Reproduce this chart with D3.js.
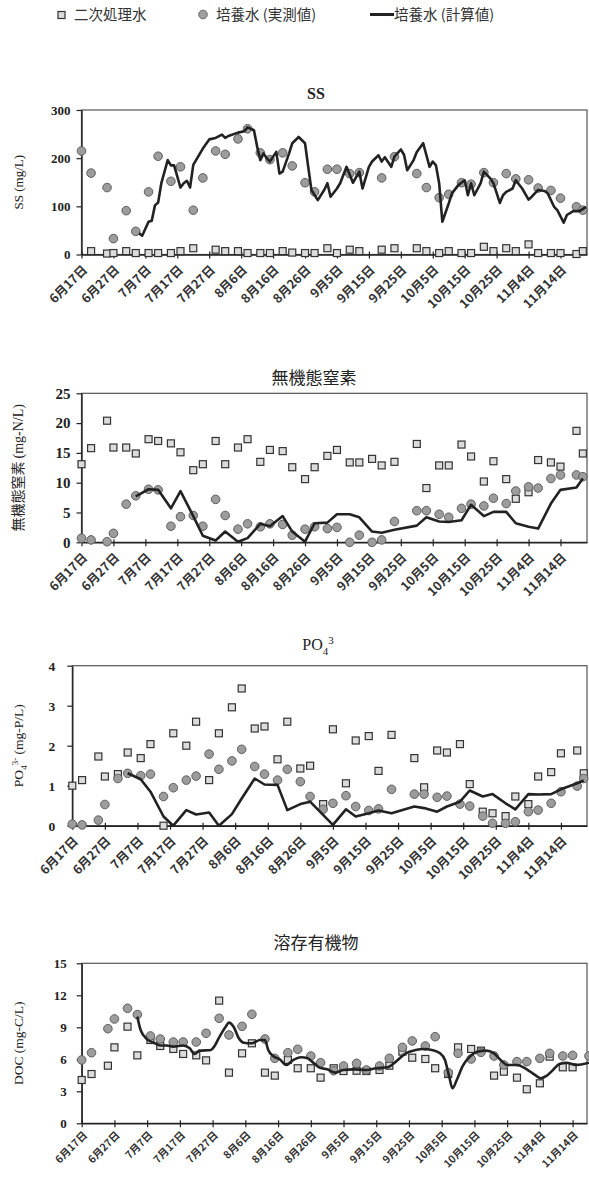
<!DOCTYPE html>
<html>
<head>
<meta charset="utf-8">
<script src="https://cdn.jsdelivr.net/npm/d3@7"></script>
<style>
  body { margin: 0; background: #fff; }
  svg { display: block; }
</style>
</head>
<body>
<svg id="chart" width="589" height="1178"></svg>
<script>
// Sampling days, counted from 17 June (day 0)
const sampleDays = [0, 3, 8, 10, 14, 17, 21, 24, 28, 31, 35, 38, 42, 45, 49, 52, 56, 59, 63, 66,
  70, 73, 77, 80, 84, 87, 91, 94, 98, 101, 105, 108, 112, 115, 119, 122, 126, 129, 133, 136,
  140, 143, 147, 150, 155, 157];

// x-axis ticks every 10 days: 6月17日 ... 11月14日
const tickDays = d3.range(0, 151, 10);

// Legend entries
const seriesNames = ["二次処理水", "培養水 (実測値)", "培養水 (計算値)"];

// ---- SS (mg/L)
const ssEffluent = [null, 7, 2, 3, 7, 3, 3, 3, 3, 7, 13, null, 10, 7, 7, 3, 3, 3, 7, 4,
  3, 3, 13, 3, 10, 7, null, 10, 13, null, 13, 7, 3, 7, 3, 3, 16, 7, 13, 7,
  21, 3, 3, 3, 1, 7];
const ssCulture = [215, 169, 139, 33, 91, 48, 130, 204, 152, 182, 92, 159, 215, 208, 240, 261, 211, 197, 211, 184,
  149, 130, 177, 177, 168, 170, null, 159, 203, null, 168, 139, 118, 125, 149, 146, 170, 149, 168, 157,
  155, 138, 133, 117, 99, 92];
const ssCalcDays = [18, 19, 21, 22, 23, 24, 25, 27, 28, 29, 31, 32, 33, 34, 35, 38, 40, 42, 44, 45,
  46, 49, 51, 52, 54, 55, 56, 57, 58, 59, 61, 62, 63, 65, 66, 68, 70, 71, 72, 74,
  76, 77, 78, 80, 81, 83, 85, 87, 88, 90, 91, 93, 94, 95, 97, 98, 100, 101, 102, 104,
  105, 107, 109, 110, 111, 112, 113, 115, 116, 118, 120, 121, 122, 123, 125, 126, 128, 129, 131, 132,
  133, 135, 136, 138, 140, 141, 143, 145, 146, 148, 149, 151, 152, 154, 156, 158];
const ssCalc = [44, 39, 68, 70, 102, 108, 148, 196, 185, 185, 139, 148, 153, 139, 186, 220, 239, 242, 249, 242,
  246, 253, 256, 264, 258, 224, 196, 210, 200, 193, 213, 168, 172, 210, 231, 244, 231, 182, 134, 113,
  134, 148, 120, 137, 148, 182, 149, 172, 137, 182, 193, 206, 193, 202, 182, 203, 218, 207, 175, 196,
  213, 231, 182, 193, 185, 148, 68, 106, 127, 144, 154, 123, 148, 123, 148, 172, 158, 148, 107, 123,
  130, 137, 154, 137, 114, 120, 134, 132, 127, 99, 92, 66, 82, 90, 90, 99];

// ---- 無機態窒素 (mg-N/L)
const nEffluent = [13.1, 15.8, 20.4, 15.9, 15.9, 14.9, 17.3, 17.0, 16.6, 15.1, 12.1, 13.1, 17.0, 13.1, 15.9, 17.3, 13.5, 15.5, 15.3, 12.6,
  10.6, 12.6, 14.5, 15.5, 13.4, 13.4, 14.0, 12.9, 13.5, null, 16.5, 9.1, 12.9, 12.9, 16.4, 14.4, 10.2, 13.6, 10.6, 7.3,
  8.4, 13.8, 13.4, 12.7, 18.7, 14.9];
const nCulture = [0.7, 0.4, 0.1, 1.5, 6.4, 7.8, 8.9, 8.8, 2.7, 4.3, 4.5, 2.7, 7.2, 4.5, 2.2, 3.1, 2.6, 3.1, 3.0, 1.2,
  2.2, 2.6, 2.3, 2.5, 0.0, 1.2, 0.0, 0.4, 3.5, null, 5.3, 5.3, 4.7, 4.2, 5.7, 6.4, 6.1, 7.4, 6.5, 8.6,
  9.3, 9.1, 10.7, 11.3, 11.3, 11.0];
const nCalcDays = [17, 21, 24, 28, 31, 35, 38, 42, 45, 49, 52, 56, 59, 63, 66, 70, 73, 77, 80, 84,
  87, 91, 94, 98, 105, 108, 112, 115, 119, 122, 126, 129, 133, 136, 140, 143, 147, 150, 155, 157];
const nCalc = [7.7, 8.9, 8.8, 5.7, 8.6, 4.4, 1.1, 0.3, 1.8, 0.1, 0.7, 3.1, 2.7, 4.4, 1.8, 0.1, 3.2, 3.3, 4.7, 4.7,
  4.2, 1.8, 1.6, 2.1, 2.8, 4.2, 3.5, 3.4, 3.7, 6.3, 4.4, 5.1, 5.1, 3.2, 2.6, 2.3, 6.5, 8.8, 9.2, 10.7];

// ---- PO4 3- (mg-P/L)
const pEffluent = [1.0, 1.14, 1.73, 1.23, 1.29, 1.83, 1.69, 2.04, 0.0, 2.31, 2.0, 2.6, 1.14, 2.31, 2.96, 3.43, 2.43, 2.48, 1.66, 2.6,
  1.43, 1.5, 0.54, 2.41, 1.06, 2.13, 2.24, 1.37, 2.27, null, 1.69, 0.96, 1.88, 1.83, 2.04, 1.04, 0.35, 0.31, 0.24, 0.73,
  0.54, 1.23, 1.34, 1.81, 1.88, 1.31];
const pCulture = [0.04, 0.02, 0.14, 0.53, 1.18, 1.31, 1.25, 1.29, 0.73, 0.95, 1.14, 1.24, 1.79, 1.41, 1.62, 1.91, 1.48, 1.29, 1.14, 1.41,
  1.1, 0.73, 0.41, 0.56, 0.75, 0.48, 0.38, 0.42, 0.91, null, 0.79, 0.79, 0.71, 0.74, 0.54, 0.49, 0.24, 0.06, 0.06, 0.1,
  0.35, 0.39, 0.56, 0.85, 0.99, 1.18];
const pCalcDays = [17, 21, 24, 28, 31, 35, 38, 42, 45, 49, 52, 56, 59, 63, 66, 70, 73, 80, 84, 87,
  91, 94, 98, 105, 108, 112, 115, 119, 122, 126, 129, 133, 136, 140, 143, 147, 150, 155, 157];
const pCalc = [1.31, 1.16, 0.85, 0.23, 0.0, 0.39, 0.28, 0.33, 0.0, 0.29, 0.68, 1.18, 1.03, 1.02, 0.39, 0.54, 0.6, 0.02, 0.41, 0.23,
  0.31, 0.38, 0.31, 0.48, 0.44, 0.35, 0.48, 0.6, 0.88, 0.73, 0.79, 0.56, 0.41, 0.79, 0.78, 0.79, 0.91, 1.06, 1.13];

// ---- DOC (mg-C/L)
const docEffluent = [4.06, 4.62, 5.4, 7.12, 9.06, 6.37, 7.81, 7.25, 6.97, 6.5, 6.37, 5.9, 11.5, 4.75, 6.56, 7.5, 4.75, 4.47, 5.94, 5.16,
  5.16, 4.28, 5.16, 4.9, 4.93, 4.9, 5.0, 5.4, 6.72, 6.15, 6.03, 5.16, 4.62, 7.12, 6.97, 6.81, 4.47, 4.84, 4.28, 3.19,
  3.75, 6.25, 5.25, 5.25, null, null];
const docCulture = [5.94, 6.62, 8.87, 9.78, 10.78, 10.19, 8.19, 7.9, 7.62, 7.62, 7.62, 8.44, 9.84, 8.28, 9.09, 10.22, 7.9, 6.09, 6.62, 6.94,
  6.31, 5.68, 4.93, 5.37, 5.62, 5.0, 5.37, 6.09, 7.12, 7.72, 7.25, 8.12, 4.75, 6.56, 6.03, 6.65, 6.31, 5.47, 5.78, 5.78,
  6.09, 6.56, 6.31, 6.37, 6.31, null];
const docCalcDays = [17, 18, 20, 22, 24, 26, 28, 31, 33, 34.5, 36, 39.5, 40.5, 42, 44, 45, 46.5, 48, 49.5, 52,
  54.5, 56, 57, 58.5, 60.5, 62.5, 64.5, 67, 69, 71, 72.5, 75, 77.5, 80, 83, 87, 90, 93.5, 96, 99,
  102, 104.5, 107, 109.5, 111, 112.3, 113.3, 114.6, 116.4, 118.6, 121, 123.5, 126, 128, 130, 133, 136, 138.5, 140.3, 142,
  144, 146, 148, 151, 155];
const docCalc = [10.0, 8.75, 7.87, 7.56, 7.3, 7.3, 7.19, 7.3, 7.03, 6.5, 6.81, 6.87, 7.2, 8.06, 9.06, 9.44, 9.0, 7.97, 7.56, 7.5,
  7.81, 7.8, 6.87, 6.31, 6.0, 5.47, 5.9, 6.19, 6.1, 5.62, 5.25, 5.06, 4.75, 5.0, 5.06, 5.0, 5.16, 5.25, 5.78, 6.56,
  6.87, 6.97, 6.87, 6.56, 5.94, 4.37, 3.28, 4.06, 5.37, 6.25, 6.72, 6.81, 6.56, 5.94, 5.47, 5.47, 5.06, 4.53, 4.22, 4.44,
  5.0, 5.56, 5.68, 5.47, 5.68];

// ---------------------------------------------------------------------------
const DAY = 864e5;
const START = Date.UTC(2009, 5, 17);
const toDate = d => new Date(START + d * DAY);
const fmtTick = d3.utcFormat("%-m月%-d日");

const CJK = "'Noto Sans CJK JP', 'Noto Sans', sans-serif";
const SERIF = "'Liberation Serif', 'Times New Roman', serif";
const RIGHT = 587;

const svg = d3.select("#chart");

// Legend
const legend = svg.append("g").attr("font-family", CJK).attr("font-size", 14.5).attr("fill", "#333");
legend.append("rect").attr("x", 58).attr("y", 11.5).attr("width", 7).attr("height", 7)
  .attr("fill", "#dcdcdc").attr("stroke", "#333").attr("stroke-width", 1.2);
legend.append("text").attr("x", 74).attr("y", 20).text(seriesNames[0]);
legend.append("circle").attr("cx", 203).attr("cy", 14.5).attr("r", 4.3)
  .attr("fill", "#a0a0a0").attr("stroke", "#666").attr("stroke-width", 1);
legend.append("text").attr("x", 216).attr("y", 20).text(seriesNames[1]);
legend.append("line").attr("x1", 370).attr("x2", 394).attr("y1", 14.5).attr("y2", 14.5)
  .attr("stroke", "#222").attr("stroke-width", 3);
legend.append("text").attr("x", 394).attr("y", 20).text(seriesNames[2]);

function drawPanel(p) {
  const x = d3.scaleUtc().domain([toDate(0), toDate(p.dEnd)]).range([p.x0, RIGHT]);
  const y = d3.scaleLinear().domain([0, p.yMax]).range([p.yBottom, p.yTop]);
  const g = svg.append("g");

  // plot frame
  g.append("rect")
    .attr("x", p.x0).attr("y", p.yTop)
    .attr("width", RIGHT - p.x0).attr("height", p.yBottom - p.yTop)
    .attr("fill", "none").attr("stroke", "#555").attr("stroke-width", 1.2);

  // y axis
  const ya = g.append("g").attr("transform", `translate(${p.x0},0)`)
    .call(d3.axisLeft(y).tickValues(p.yTicks).tickFormat(d3.format("d"))
      .tickSize(5).tickSizeOuter(0).tickPadding(p.yPad));
  ya.select(".domain").attr("stroke", "#222").attr("stroke-width", 1.4);
  ya.selectAll(".tick line").attr("stroke", "#222").attr("stroke-width", 1.2);
  ya.selectAll("text").attr("font-family", SERIF).attr("font-weight", "bold")
    .attr("font-size", p.yFont).attr("fill", "#222");

  // x axis
  const xa = g.append("g").attr("transform", `translate(0,${p.yBottom})`)
    .call(d3.axisBottom(x).tickValues(tickDays.map(toDate)).tickFormat(fmtTick)
      .tickSize(4).tickSizeOuter(0));
  xa.select(".domain").attr("stroke", "#222").attr("stroke-width", 1.4);
  xa.selectAll(".tick line").attr("y1", -3).attr("stroke", "#222").attr("stroke-width", 1.2);
  xa.selectAll("text")
    .attr("x", 0).attr("y", 0).attr("dy", "0.35em")
    .attr("text-anchor", "end")
    .attr("transform", `translate(3,${p.xShift}) rotate(-45)`)
    .attr("font-family", CJK).attr("font-weight", "bold")
    .attr("font-size", p.xFont).attr("fill", "#333");

  // title
  p.title(svg.append("text").attr("x", p.titleX).attr("y", p.titleY).attr("text-anchor", "middle").attr("fill", "#222"));

  // y-axis label
  p.ylabel(svg.append("text")
    .attr("transform", `translate(23,${(p.yTop + p.yBottom) / 2}) rotate(-90)`)
    .attr("text-anchor", "middle").attr("fill", "#222"));

  // secondary effluent (squares)
  const eff = sampleDays.map((d, i) => ({ d, v: p.effluent[i] })).filter(o => o.v != null);
  g.append("g").selectAll("rect").data(eff).join("rect")
    .attr("x", o => x(toDate(o.d)) - 3.5).attr("y", o => y(o.v) - 3.5)
    .attr("width", 7).attr("height", 7)
    .attr("fill", "#dcdcdc").attr("stroke", "#333").attr("stroke-width", 1.2);

  // culture water, measured (circles)
  const cul = sampleDays.map((d, i) => ({ d, v: p.culture[i] })).filter(o => o.v != null);
  g.append("g").selectAll("circle").data(cul).join("circle")
    .attr("cx", o => x(toDate(o.d))).attr("cy", o => y(o.v)).attr("r", 4.3)
    .attr("fill", "#9c9c9c").attr("stroke", "#5e5e5e").attr("stroke-width", 1);

  // culture water, calculated (line)
  const calc = p.calcDays.map((d, i) => ({ d, v: p.calc[i] }));
  g.append("path").datum(calc)
    .attr("fill", "none").attr("stroke", "#222").attr("stroke-width", 2.6)
    .attr("stroke-linejoin", "round")
    .attr("d", d3.line().x(o => x(toDate(o.d))).y(o => y(o.v)).curve(p.curve || d3.curveLinear));
}

drawPanel({
  x0: 81.5, dEnd: 158.3, yTop: 110, yBottom: 254.5, yMax: 300, yTicks: [0, 100, 200, 300],
  yPad: 6, yFont: 13, xFont: 12.5, xShift: 13,
  effluent: ssEffluent, culture: ssCulture, calcDays: ssCalcDays, calc: ssCalc,
  titleX: 316, titleY: 99,
  title: t => t.attr("font-family", SERIF).attr("font-weight", "bold").attr("font-size", 16).text("SS"),
  ylabel: t => t.attr("font-family", SERIF).attr("font-size", 13).text("SS (mg/L)")
});

drawPanel({
  x0: 81.5, dEnd: 158.3, yTop: 393.3, yBottom: 542.3, yMax: 25, yTicks: [0, 5, 10, 15, 20, 25],
  yPad: 6, yFont: 15, xFont: 12.5, xShift: 13,
  effluent: nEffluent, culture: nCulture, calcDays: nCalcDays, calc: nCalc,
  titleX: 314, titleY: 384,
  title: t => t.attr("font-family", CJK).attr("font-size", 17).text("無機態窒素"),
  ylabel: t => {
    t.append("tspan").attr("font-family", CJK).attr("font-size", 14).text("無機態窒素 ");
    t.append("tspan").attr("font-family", SERIF).attr("font-size", 14).text("(mg-N/L)");
  }
});

drawPanel({
  x0: 72.3, dEnd: 158.0, yTop: 665.7, yBottom: 825.7, yMax: 4, yTicks: [0, 1, 2, 3, 4],
  yPad: 12, yFont: 13.5, xFont: 12.5, xShift: 13,
  effluent: pEffluent, culture: pCulture, calcDays: pCalcDays, calc: pCalc,
  titleX: 318, titleY: 650,
  title: t => {
    t.attr("font-family", SERIF).attr("font-size", 16);
    t.append("tspan").text("PO");
    t.append("tspan").attr("dy", 5).attr("font-size", 11).text("4");
    t.append("tspan").attr("dy", -11).attr("font-size", 11).text("3");
  },
  ylabel: t => {
    t.attr("font-family", SERIF).attr("font-size", 13.5);
    t.append("tspan").text("PO");
    t.append("tspan").attr("dy", 4).attr("font-size", 9).text("4");
    t.append("tspan").attr("dy", -9).attr("font-size", 9).text("3-");
    t.append("tspan").attr("dy", 5).text(" (mg-P/L)");
  }
});

drawPanel({
  x0: 81.7, dEnd: 154.4, yTop: 963.3, yBottom: 1123.3, yMax: 15, yTicks: [0, 3, 6, 9, 12, 15],
  yPad: 10, yFont: 13, xFont: 10.5, xShift: 10,
  effluent: docEffluent, culture: docCulture, calcDays: docCalcDays, calc: docCalc,
  curve: d3.curveMonotoneX,
  titleX: 316, titleY: 949,
  title: t => t.attr("font-family", CJK).attr("font-size", 17).text("溶存有機物"),
  ylabel: t => t.attr("font-family", SERIF).attr("font-size", 13.5).text("DOC (mg-C/L)")
});
</script>
</body>
</html>
